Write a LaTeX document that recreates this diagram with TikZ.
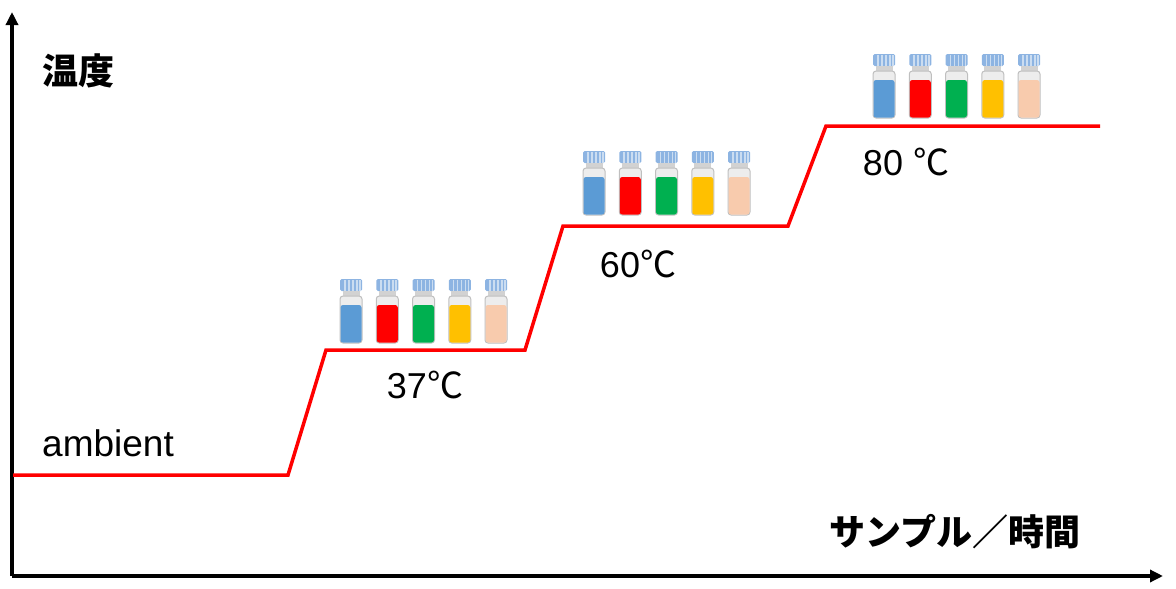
\documentclass[tikz,border=0pt]{standalone}
\usepackage{fontspec}
\setmainfont{Liberation Sans}
\newfontfamily\jp{Noto Sans CJK JP}
\usetikzlibrary{arrows.meta}
\definecolor{vblue}{HTML}{5B9BD5}
\definecolor{vred}{HTML}{FF0000}
\definecolor{vgreen}{HTML}{00B050}
\definecolor{vyellow}{HTML}{FFC000}
\definecolor{vpeach}{HTML}{F8CBAD}
\definecolor{capblue}{HTML}{8DB4E2}
\definecolor{glass}{HTML}{EDEDED}
\definecolor{rim}{HTML}{BFBFBF}
\tikzset{
  axis/.style = {black, line width=3.5pt, -{Triangle[length=13pt,width=12pt]}},
  step line/.style = {red, line width=3.5pt},
  label text/.style = {inner sep=0pt, font=\fontsize{36}{40}\selectfont},
  pics/vial/.style = {code={
      \fill[capblue, rounded corners=1.5pt] (-11,0) rectangle (11,12);
      \foreach \s in {-7,-3,1,5,8}
        \fill[white, opacity=0.55] (\s,0.5) rectangle (\s+1.6,11.5);
      \fill[rim!70] (-8.5,12) rectangle (8.5,17.5);
      \filldraw[fill=glass, draw=rim, line width=1pt, rounded corners=3pt] (-11,17) rectangle (11,64);
      \fill[#1, rounded corners=2.5pt] (-10.5,26) rectangle (10.5,63.5);
  }}
}
\begin{document}
\begin{tikzpicture}[x=1pt, y=-1pt]
                \useasboundingbox (0,0) rectangle (1176,589);
                % axes
                \coordinate (O) at (12,576);
                \coordinate (ytop) at (12,12);
                \coordinate (xend) at (1163,576);
                \draw[axis] (O) -- (ytop);
                \draw[axis] (O) -- (xend);
                % temperature steps
                \draw[step line] (13,475) -- (288,475) -- (326,350) -- (525,350)
                    -- (563,226) -- (788,226) -- (826,126) -- (1100,126);
                % vials
                \foreach \gx/\gy in {351/279, 594/151, 884/54}
                    \foreach \c [count=\i from 0] in {vblue,vred,vgreen,vyellow,vpeach}
                        \pic at (\gx+36.25*\i, \gy) {vial=\c};
                % labels
                \node[label text, font=\fontsize{37}{40}\selectfont, anchor=base west] (ambient) at (42,456) {ambient};
                \node[label text, anchor=base] (t37) at (425,398) {37{\jp ℃}};
                \node[label text, anchor=base] (t60) at (638,277) {60{\jp ℃}};
                \node[label text, anchor=base] (t80) at (906,175) {80 {\jp ℃}};
                \node[label text, anchor=west] (ylabel) at (42,71) {\jp\bfseries 温度};
                \node[label text, anchor=west] (xlabel) at (829,532) {\jp\bfseries サンプル／時間};

            \end{tikzpicture}
\end{document}
